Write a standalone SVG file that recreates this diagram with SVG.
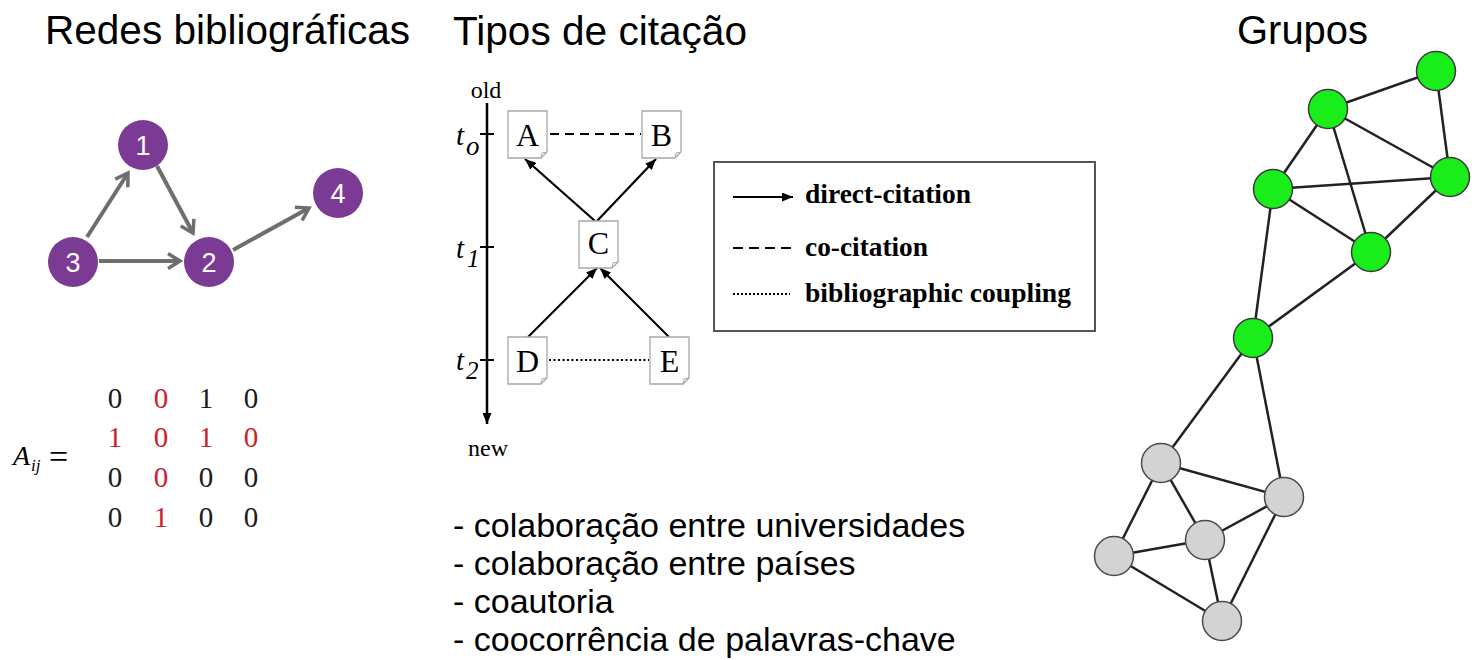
<svg xmlns="http://www.w3.org/2000/svg" width="1479" height="660" viewBox="0 0 1479 660">
<style>
.title{font-family:"Liberation Sans",Arial,sans-serif;font-size:40px;fill:#000}
.bullet{font-family:"Liberation Sans",Arial,sans-serif;font-size:34px;fill:#000}
.pnode{fill:#7b3b94}
.plabel{font-family:"Liberation Sans",Arial,sans-serif;font-size:27px;fill:#fff;text-anchor:middle}
.parrow{stroke:#6e6e6e;stroke-width:4;fill:none}
.mat{font-family:"Liberation Serif","Times New Roman",serif;font-size:29px;fill:#1a1a1a;text-anchor:middle}
.red{fill:#c8232c}
.serif{font-family:"Liberation Serif","Times New Roman",serif;fill:#000}
.doc{fill:#fff;stroke:#a8a8a8;stroke-width:1.3}
.docl{font-family:"Liberation Serif","Times New Roman",serif;font-size:32px;fill:#000;text-anchor:middle}
.cit{stroke:#000;stroke-width:2.2;fill:none}
.leg{font-family:"Liberation Serif","Times New Roman",serif;font-size:27px;font-weight:bold;fill:#000}
.edge{stroke:#222;stroke-width:2.5}
.green{fill:#1aee1a;stroke:#3a3a3a;stroke-width:1.5}
.gray{fill:#d3d3d3;stroke:#4a4a4a;stroke-width:1.5}
</style>
<defs>
<marker id="chev" viewBox="0 0 18 18" refX="15" refY="9" markerWidth="18" markerHeight="18" markerUnits="userSpaceOnUse" orient="auto">
<path d="M3,1.5 L15,9 L3,16.5" fill="none" stroke="#6e6e6e" stroke-width="3.5"/>
</marker>
<marker id="tri" viewBox="0 0 11 9" refX="11" refY="4.5" markerWidth="11" markerHeight="9" markerUnits="userSpaceOnUse" orient="auto">
<path d="M0,0 L11,4.5 L0,9 Z" fill="#000"/>
</marker>
<g id="doc">
<path class="doc" d="M0,0 H39 V41 L33,47 H0 Z"/>
<path d="M33,47 L34,42 L39,41" fill="none" stroke="#a8a8a8" stroke-width="1"/>
</g>
</defs>
<rect width="1479" height="660" fill="#fff"/>

<!-- Titles -->
<text class="title" x="45" y="44" textLength="365" lengthAdjust="spacingAndGlyphs">Redes bibliográficas</text>
<text class="title" x="453" y="45" textLength="294" lengthAdjust="spacingAndGlyphs">Tipos de citação</text>
<text class="title" x="1237" y="44" textLength="131" lengthAdjust="spacingAndGlyphs">Grupos</text>

<!-- Left network -->
<g id="left-connectors">
<line class="parrow" x1="87" y1="237" x2="128" y2="173" marker-end="url(#chev)"/>
<line class="parrow" x1="157" y1="166" x2="193" y2="233" marker-end="url(#chev)"/>
<line class="parrow" x1="99" y1="261" x2="180" y2="261" marker-end="url(#chev)"/>
<line class="parrow" x1="233" y1="250" x2="309" y2="208" marker-end="url(#chev)"/>
</g>
<g id="pn1"><circle class="pnode" cx="143" cy="145" r="25"/><text class="plabel" x="143" y="155">1</text></g>
<g id="pn2"><circle class="pnode" cx="209" cy="262" r="25"/><text class="plabel" x="209" y="272">2</text></g>
<g id="pn3"><circle class="pnode" cx="73" cy="262" r="25"/><text class="plabel" x="73" y="272">3</text></g>
<g id="pn4"><circle class="pnode" cx="338" cy="193" r="25"/><text class="plabel" x="338" y="203">4</text></g>

<!-- Matrix -->
<g id="matrix">
<text class="serif" x="13" y="465" font-size="28" font-style="italic">A</text>
<text class="serif" x="31" y="471" font-size="17" font-style="italic">ij</text>
<text class="serif" x="49" y="468" font-size="34">=</text>
<text class="mat" x="115" y="408">0</text><text class="mat red" x="161" y="408">0</text><text class="mat" x="206" y="408">1</text><text class="mat" x="251" y="408">0</text>
<text class="mat red" x="115" y="447">1</text><text class="mat red" x="161" y="447">0</text><text class="mat red" x="206" y="447">1</text><text class="mat red" x="251" y="447">0</text>
<text class="mat" x="115" y="487">0</text><text class="mat red" x="161" y="487">0</text><text class="mat" x="206" y="487">0</text><text class="mat" x="251" y="487">0</text>
<text class="mat" x="115" y="527">0</text><text class="mat red" x="161" y="527">1</text><text class="mat" x="206" y="527">0</text><text class="mat" x="251" y="527">0</text>
</g>

<!-- Citation diagram -->
<g id="timeline">
<text class="serif" x="486" y="98" font-size="24" text-anchor="middle">old</text>
<line x1="487" y1="103" x2="487" y2="424" stroke="#000" stroke-width="2.5" marker-end="url(#tri)"/>
<line x1="480" y1="134" x2="494" y2="134" stroke="#000" stroke-width="2"/>
<line x1="480" y1="247" x2="494" y2="247" stroke="#000" stroke-width="2"/>
<line x1="480" y1="360" x2="494" y2="360" stroke="#000" stroke-width="2"/>
<text class="serif" x="456" y="145" font-size="29" font-style="italic">t</text>
<text class="serif" x="466" y="155" font-size="27" font-style="italic">o</text>
<text class="serif" x="456" y="258" font-size="29" font-style="italic">t</text>
<text class="serif" x="467" y="267" font-size="25" font-style="italic">1</text>
<text class="serif" x="456" y="370" font-size="29" font-style="italic">t</text>
<text class="serif" x="466" y="379" font-size="25" font-style="italic">2</text>
<text class="serif" x="488" y="456" font-size="24" text-anchor="middle">new</text>
</g>
<g id="cit-connectors">
<line class="cit" x1="550" y1="134" x2="641" y2="134" stroke-dasharray="9,6"/>
<line class="cit" x1="549" y1="360" x2="649" y2="360" stroke-dasharray="2,2.5"/>
<line class="cit" x1="595" y1="221" x2="525" y2="159" marker-end="url(#tri)"/>
<line class="cit" x1="597" y1="221" x2="656" y2="159" marker-end="url(#tri)"/>
<line class="cit" x1="528" y1="337" x2="597" y2="268" marker-end="url(#tri)"/>
<line class="cit" x1="669" y1="337" x2="600" y2="268" marker-end="url(#tri)"/>
</g>
<g id="docA"><use href="#doc" x="508" y="111"/><text class="docl" x="527.5" y="146">A</text></g>
<g id="docB"><use href="#doc" x="642" y="111"/><text class="docl" x="661.5" y="146">B</text></g>
<g id="docC"><use href="#doc" x="579" y="221"/><text class="docl" x="598.5" y="254">C</text></g>
<g id="docD"><use href="#doc" x="508" y="337"/><text class="docl" x="527.5" y="372">D</text></g>
<g id="docE"><use href="#doc" x="650" y="337"/><text class="docl" x="669.5" y="372">E</text></g>

<!-- Legend -->
<g id="legend">
<rect x="714" y="162" width="381" height="169" fill="#fff" stroke="#555" stroke-width="2"/>
<line class="cit" x1="733" y1="197" x2="793" y2="197" marker-end="url(#tri)"/>
<text class="leg" x="805" y="203" textLength="166" lengthAdjust="spacingAndGlyphs">direct-citation</text>
<line class="cit" x1="733" y1="248" x2="792" y2="248" stroke-dasharray="10,6"/>
<text class="leg" x="805" y="256" textLength="123" lengthAdjust="spacingAndGlyphs">co-citation</text>
<line class="cit" x1="733" y1="294" x2="790" y2="294" stroke-dasharray="2,2"/>
<text class="leg" x="805" y="302" textLength="266" lengthAdjust="spacingAndGlyphs">bibliographic coupling</text>
</g>

<!-- Bullets -->
<g id="bullets">
<text class="bullet" x="453" y="537">- colaboração entre universidades</text>
<text class="bullet" x="453" y="575">- colaboração entre países</text>
<text class="bullet" x="453" y="613">- coautoria</text>
<text class="bullet" x="453" y="651">- coocorrência de palavras-chave</text>
</g>

<!-- Groups network -->
<g id="group-connectors">
<line class="edge" x1="1436" y1="71" x2="1328" y2="109"/>
<line class="edge" x1="1436" y1="71" x2="1450" y2="177"/>
<line class="edge" x1="1328" y1="109" x2="1273" y2="189"/>
<line class="edge" x1="1328" y1="109" x2="1450" y2="177"/>
<line class="edge" x1="1328" y1="109" x2="1371" y2="252"/>
<line class="edge" x1="1273" y1="189" x2="1450" y2="177"/>
<line class="edge" x1="1273" y1="189" x2="1371" y2="252"/>
<line class="edge" x1="1450" y1="177" x2="1371" y2="252"/>
<line class="edge" x1="1273" y1="189" x2="1253" y2="338"/>
<line class="edge" x1="1371" y1="252" x2="1253" y2="338"/>
<line class="edge" x1="1253" y1="338" x2="1161" y2="463"/>
<line class="edge" x1="1253" y1="338" x2="1284" y2="497"/>
<line class="edge" x1="1161" y1="463" x2="1284" y2="497"/>
<line class="edge" x1="1161" y1="463" x2="1205" y2="540"/>
<line class="edge" x1="1161" y1="463" x2="1114" y2="556"/>
<line class="edge" x1="1284" y1="497" x2="1205" y2="540"/>
<line class="edge" x1="1284" y1="497" x2="1222" y2="621"/>
<line class="edge" x1="1205" y1="540" x2="1114" y2="556"/>
<line class="edge" x1="1205" y1="540" x2="1222" y2="621"/>
<line class="edge" x1="1114" y1="556" x2="1222" y2="621"/>
</g>
<g id="g1"><circle class="green" cx="1436" cy="71" r="19.5"/></g>
<g id="g2"><circle class="green" cx="1328" cy="109" r="19.5"/></g>
<g id="g3"><circle class="green" cx="1273" cy="189" r="19.5"/></g>
<g id="g4"><circle class="green" cx="1450" cy="177" r="19.5"/></g>
<g id="g5"><circle class="green" cx="1371" cy="252" r="19.5"/></g>
<g id="g6"><circle class="green" cx="1253" cy="338" r="19.5"/></g>
<g id="h1"><circle class="gray" cx="1161" cy="463" r="19.5"/></g>
<g id="h2"><circle class="gray" cx="1284" cy="497" r="19.5"/></g>
<g id="h3"><circle class="gray" cx="1205" cy="540" r="19.5"/></g>
<g id="h4"><circle class="gray" cx="1114" cy="556" r="19.5"/></g>
<g id="h5"><circle class="gray" cx="1222" cy="621" r="19.5"/></g>
</svg>
